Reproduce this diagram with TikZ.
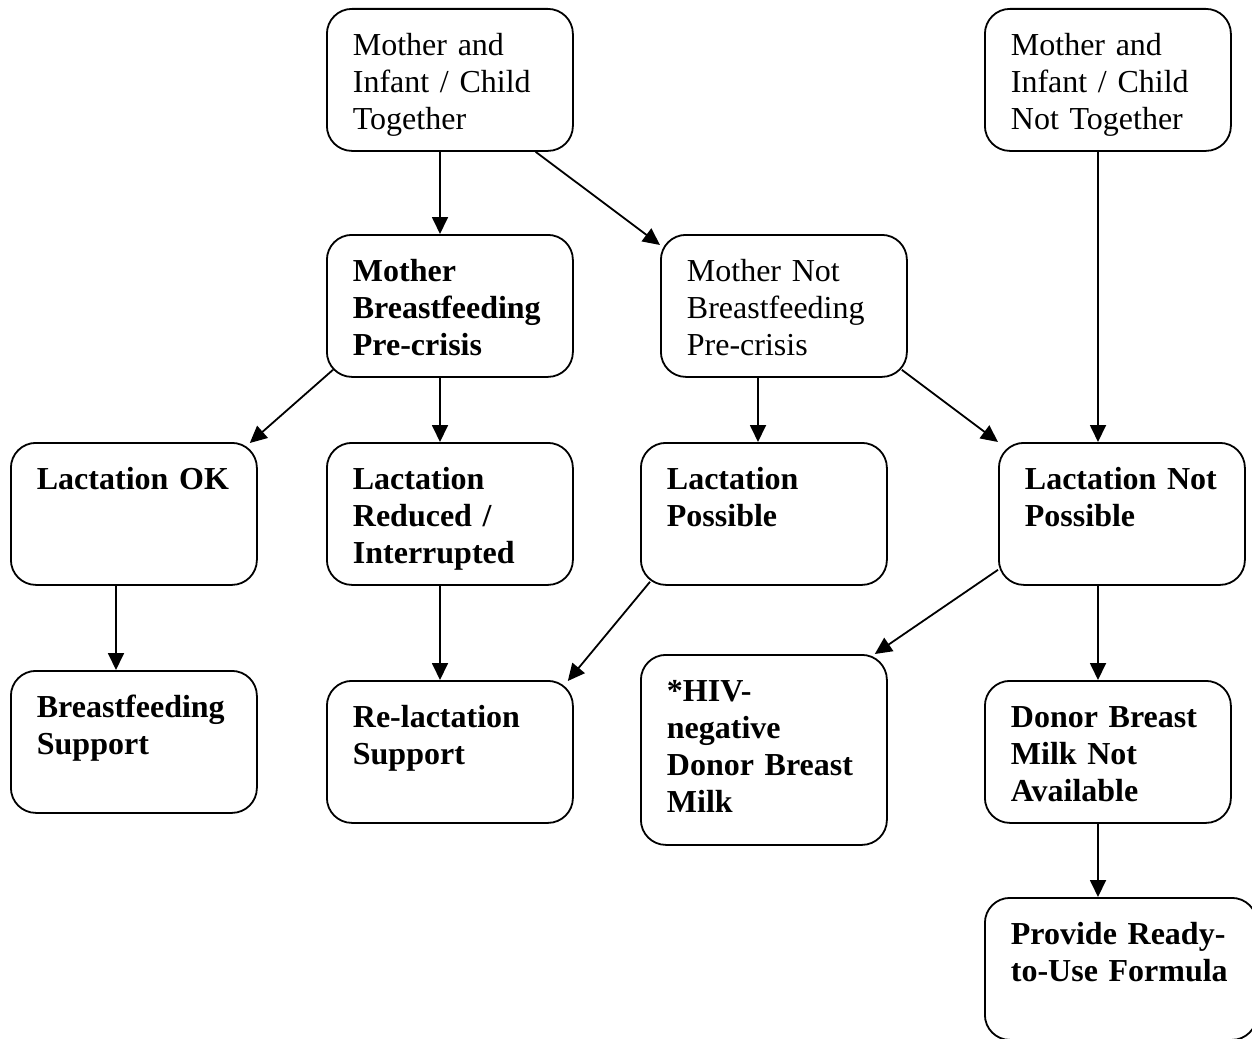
\documentclass[tikz,border=0pt]{standalone}
\usepackage{fontspec}
\setmainfont{Liberation Serif}
\usetikzlibrary{arrows.meta,positioning}

\begin{document}
\begin{tikzpicture}[
    x=0.5pt, y=-0.5pt,
    box/.style={draw, line width=0.9pt, rounded corners=12.5pt, anchor=north west,
        text width=97pt, inner xsep=13pt, inner ysep=10.5pt, align=left,
        text height=13pt, text depth=37pt, font=\fontsize{16}{18.5}\selectfont},
    bold/.style={box, font=\fontsize{16}{18.5}\selectfont\bfseries},
    arrow/.style={->, >={Triangle[length=8.5pt,width=8pt]}, line width=0.9pt}
]
\useasboundingbox (0,0) rectangle (1252,1038);

% Situazione di partenza
\node[box] (tog) at (326,8) {Mother and\\Infant / Child\\Together};
\node[box] (apart) at (984,8) {Mother and\\Infant / Child\\Not Together};

% Allattamento prima della crisi
\node[bold] (bfpre) at (326,234) {Mother\\Breastfeeding\\Pre-crisis};
\node[box] (nobf) at (660,234) {Mother Not\\Breastfeeding\\Pre-crisis};

% Stato della lattazione
\node[bold] (lacok) at (10,442) {Lactation OK};
\node[bold] (lacred) at (326,442) {Lactation\\Reduced /\\Interrupted};
\node[bold] (lacpos) at (640,442) {Lactation\\Possible};
\node[bold] (lacnot) at (998,442) {Lactation Not\\Possible};

% Interventi
\node[bold] (bfsup) at (10,670) {Breastfeeding\\Support};
\node[bold] (relac) at (326,680) {Re-lactation\\Support};
\node[bold, text depth=61pt] (donor) at (640,654) {*HIV-\\negative\\Donor Breast\\Milk};
\node[bold] (nodonor) at (984,680) {Donor Breast\\Milk Not\\Available};
\node[bold, text width=110pt] (formula) at (984,897) {Provide Ready-\\to-Use Formula};

% Colonne delle frecce verticali
\coordinate (c1) at (116,0);
\coordinate (c2) at (440,0);
\coordinate (c3) at (758,0);
\coordinate (c4) at (1098,0);

% Frecce
\draw[arrow] (tog.south -| c2) -- (bfpre.north -| c2);
\draw[arrow] (tog.-40) -- ([shift={(0,11)}]nobf.north west);
\draw[arrow] (apart.south -| c4) -- (lacnot.north -| c4);
\draw[arrow] ([shift={(7,-8)}]bfpre.south west) -- ([shift={(-8,1)}]lacok.north east);
\draw[arrow] (bfpre.south -| c2) -- (lacred.north -| c2);
\draw[arrow] (nobf.south -| c3) -- (lacpos.north -| c3);
\draw[arrow] ([shift={(-6,-8)}]nobf.south east) -- (lacnot.north west);
\draw[arrow] (lacok.south -| c1) -- (bfsup.north -| c1);
\draw[arrow] (lacred.south -| c2) -- (relac.north -| c2);
\draw[arrow] ([shift={(10,-4)}]lacpos.south west) -- ([shift={(-6,1)}]relac.north east);
\draw[arrow] ([shift={(0,-16)}]lacnot.south west) -- ([shift={(-13,0)}]donor.north east);
\draw[arrow] (lacnot.south -| c4) -- (nodonor.north -| c4);
\draw[arrow] (nodonor.south -| c4) -- (formula.north -| c4);

\end{tikzpicture}
\end{document}
